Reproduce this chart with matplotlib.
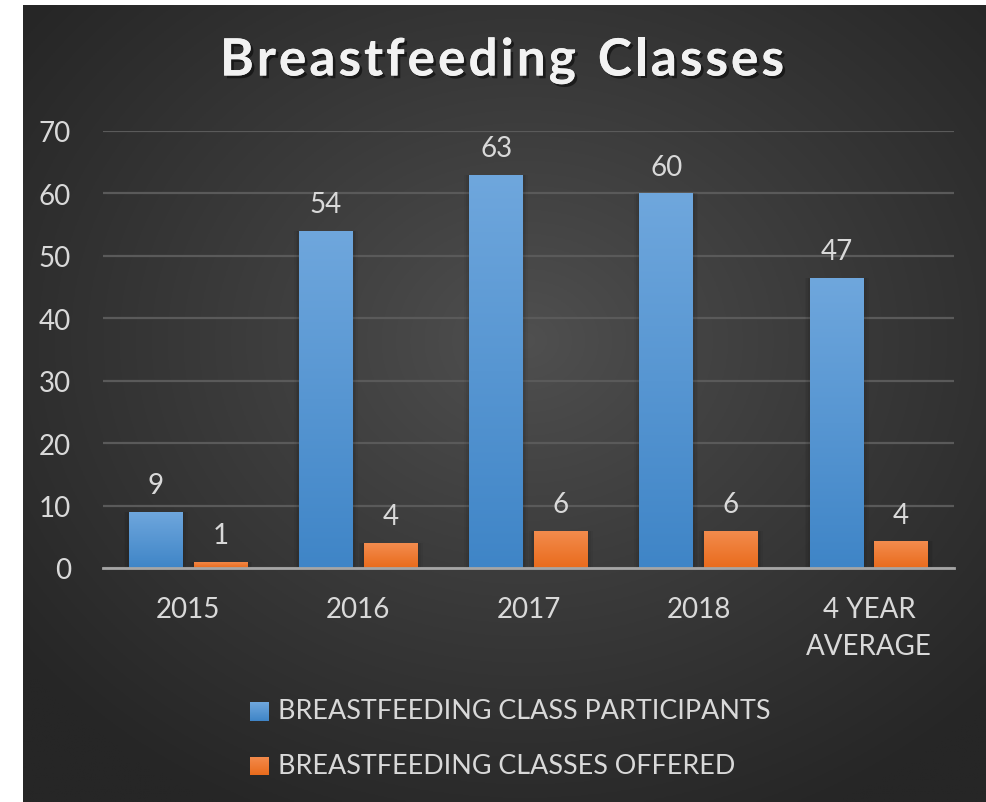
import numpy as np
import matplotlib
matplotlib.use("Agg")
import matplotlib.pyplot as plt
import matplotlib.patheffects as pe
from matplotlib.colors import LinearSegmentedColormap
import math

categories = ["2015", "2016", "2017", "2018", "4 YEAR\nAVERAGE"]
participants = [9, 54, 63, 60, 46.5]
classes_offered = [1, 4, 6, 6, 4.25]
series_names = ["BREASTFEEDING CLASS PARTICIPANTS", "BREASTFEEDING CLASSES OFFERED"]
yticks = [0, 10, 20, 30, 40, 50, 60, 70]
title = "Breastfeeding Classes"

FONT = ["Lato", "DejaVu Sans"]
plt.rcParams['font.family'] = FONT

W, H = 987, 803
fig = plt.figure(figsize=(W / 100, H / 100), dpi=100)
fig.patch.set_facecolor("white")

# background with radial gradient
bg = fig.add_axes([23 / W, 0, 1 - 23 / W, 1 - 6 / H])
bg.set_axis_off()
ny, nx = 400, 480
yy, xx = np.mgrid[0:ny, 0:nx]
cx, cy = nx * 0.52, ny * 0.42
d = np.sqrt(((xx - cx) / (nx * 0.66)) ** 2 + ((yy - cy) / (ny * 0.66)) ** 2)
d = np.clip(d, 0, 1) ** 0.9
c_in = np.array([0x50, 0x50, 0x50]) / 255
c_out = np.array([0x26, 0x26, 0x26]) / 255
img = c_in[None, None, :] * (1 - d[..., None]) + c_out[None, None, :] * d[..., None]
bg.imshow(img, aspect="auto", extent=[0, 1, 0, 1], origin="upper")
bg.set_xlim(0, 1)
bg.set_ylim(0, 1)

ax = fig.add_axes([103 / W, 1 - 569 / H, (954 - 103) / W, (569 - 132) / H])
ax.patch.set_alpha(0)
x = np.arange(len(categories))
bw = 0.316
off = 0.19

blue_cmap = LinearSegmentedColormap.from_list("b", ["#3f85c7", "#6fa7dd"])
orange_cmap = LinearSegmentedColormap.from_list("o", ["#e96b1c", "#f38c4e"])
grad = np.linspace(0, 1, 256).reshape(-1, 1)

def draw_bars(xs, vals, cmap):
    bars = ax.bar(xs, vals, bw, color="none", edgecolor="none", zorder=3)
    for b in bars:
        x0, h = b.get_x(), b.get_height()
        # soft shadow
        for k, a in [(0.03, 0.04), (0.02, 0.05), (0.01, 0.06)]:
            ax.add_patch(plt.Rectangle((x0 - k, 0), bw + 2 * k, h, facecolor="black",
                                       alpha=a, edgecolor="none", zorder=2))
        im = ax.imshow(grad, cmap=cmap, aspect="auto", origin="lower",
                       extent=[x0, x0 + bw, 0, h], zorder=3)
        im.set_clip_path(b)
    return bars

draw_bars(x - off, participants, blue_cmap)
draw_bars(x + off, classes_offered, orange_cmap)

for xs, vals in [(x - off, participants), (x + off, classes_offered)]:
    for xi, v in zip(xs, vals):
        ax.annotate(str(int(math.floor(v + 0.5))), (xi, v), xytext=(0, 10), textcoords="offset points",
                    ha="center", va="bottom", color="#d9d9d9", fontsize=20)

ax.set_xlim(-0.5, len(categories) - 0.5)
ax.set_ylim(0, 70)
ax.set_yticks(yticks)
ax.set_xticks(x)
ax.set_xticklabels(categories)
ax.tick_params(axis="both", length=0, colors="#d9d9d9", labelsize=20)
ax.tick_params(axis="x", pad=20)
ax.tick_params(axis="y", pad=23)
for lbl in ax.get_xticklabels():
    lbl.set_linespacing(1.55)
ax.grid(axis="y", color="#5a5a5a", linewidth=1.6, zorder=1)
ax.set_axisbelow(True)
for s in ["top", "right", "left"]:
    ax.spines[s].set_visible(False)
ax.spines["bottom"].set_color("#a6a6a6")
ax.spines["bottom"].set_linewidth(2)
ax.spines["bottom"].set_zorder(5)

# title with letter spacing, drawn char by char
renderer = fig.canvas.get_renderer()
tkw = dict(color="#f2f2f2", fontsize=37, fontweight="bold", va="center", ha="left",
           path_effects=[pe.withSimplePatchShadow(offset=(2, -2), shadow_rgbFace="black", alpha=0.5),
                         pe.Normal()])
spacing = 3.0  # px
widths = []
for ch in title:
    t = fig.text(0, 0, ch if ch != " " else "n", **tkw)
    bb = t.get_window_extent(renderer)
    w = bb.width if ch != " " else bb.width * 0.55
    widths.append(w)
    t.remove()
total = sum(widths) + spacing * (len(title) - 1)
xpos = 502 - total / 2
for ch, w in zip(title, widths):
    if ch != " ":
        fig.text(xpos / W, 1 - 62 / H, ch, **tkw)
    xpos += w + spacing

# legend
for i, name in enumerate(series_names):
    yc = 712 + i * 55
    ax_l = fig.add_axes([250 / W, 1 - (yc + 9.5) / H, 19 / W, 19 / H])
    cm = blue_cmap if i == 0 else orange_cmap
    ax_l.imshow(grad, cmap=cm, aspect="auto", origin="lower", extent=[0, 1, 0, 1])
    ax_l.set_axis_off()
    fig.text(278 / W, 1 - yc / H, name, ha="left", va="center", color="#d9d9d9", fontsize=19.4)

fig.savefig("out.png", dpi=100, facecolor=fig.get_facecolor())
